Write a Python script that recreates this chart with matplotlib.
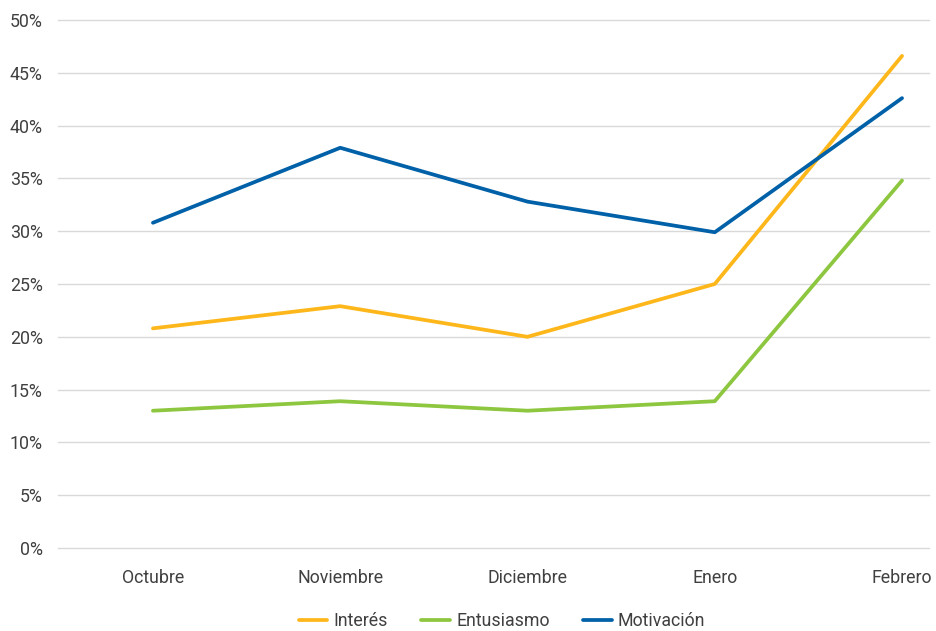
import matplotlib
matplotlib.use('Agg')
import matplotlib.pyplot as plt
from matplotlib.ticker import FuncFormatter

plt.rcParams['font.family'] = ['Roboto', 'DejaVu Sans']

meses = ['Octubre', 'Noviembre', 'Diciembre', 'Enero', 'Febrero']
interes = [20.8, 22.9, 20.0, 25.0, 46.6]
entusiasmo = [13.0, 13.9, 13.0, 13.9, 34.8]
motivacion = [30.8, 37.9, 32.8, 29.9, 42.6]

fig = plt.figure(figsize=(9.37, 6.31), dpi=100)
ax = fig.add_axes([58 / 937, 83 / 631, (929 - 58) / 937, (548 - 20) / 631])

x = range(len(meses))
ax.plot(x, interes, color='#FDB71A', linewidth=2.7, label='Interés', solid_capstyle='round')
ax.plot(x, entusiasmo, color='#8DC63F', linewidth=2.7, label='Entusiasmo', solid_capstyle='round')
ax.plot(x, motivacion, color='#0061A8', linewidth=2.7, label='Motivación', solid_capstyle='round')

ax.set_ylim(0, 50)
ax.set_xlim(-0.507, 4.144)
ax.set_yticks(range(0, 51, 5))
ax.yaxis.set_major_formatter(FuncFormatter(lambda v, p: f'{int(v)}%'))
ax.set_xticks(list(x))
ax.set_xticklabels(meses)
ax.grid(axis='y', color='#D9D9D9', linewidth=1)
for gl in ax.get_ygridlines():
    gl.set_clip_on(False)
ax.set_axisbelow(True)
for s in ax.spines.values():
    s.set_visible(False)
ax.tick_params(axis='both', length=0, labelsize=12.8, colors='#404040')
ax.tick_params(axis='y', pad=11)
ax.tick_params(axis='x', pad=15)

fig.legend(loc='center', bbox_to_anchor=(502 / 937, 1 - 621 / 631), ncol=3, frameon=False,
           fontsize=12.8, handlelength=1.6, columnspacing=1.9, handletextpad=0.35,
           labelcolor='#404040')

fig.savefig('out.png', dpi=100)
